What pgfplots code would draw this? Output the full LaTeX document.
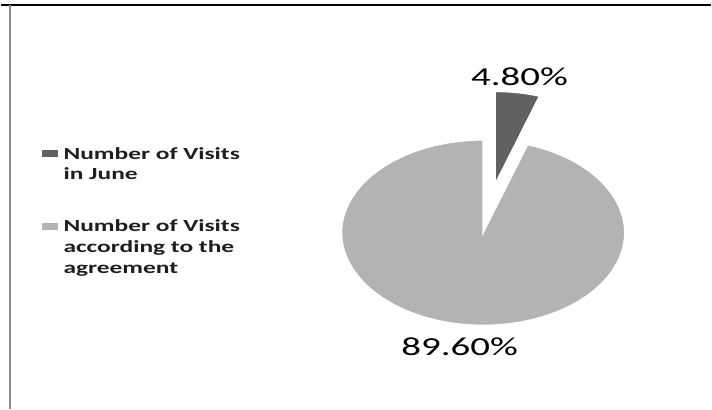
\documentclass[border=0pt]{standalone}
\usepackage{pgfplots}
\pgfplotsset{compat=1.18}
\usepackage{pgfplotstable}
\usepackage{fontspec}
\setmainfont{Carlito}
\newfontfamily\stretchfont[FakeStretch=1.5]{Carlito}
\definecolor{darkslice}{HTML}{616161}
\definecolor{lightslice}{HTML}{B3B3B3}
\definecolor{frameline}{HTML}{8A8A8A}
\definecolor{legtext}{HTML}{1E1E1E}

\pgfplotstableread{
label value
June 4.8
Agreement 89.6
}\piedata

\begin{document}
\begin{tikzpicture}
\pgfplotstablegetelem{0}{value}\of\piedata \let\va\pgfplotsretval
\pgfplotstablegetelem{1}{value}\of\piedata \let\vb\pgfplotsretval
\pgfmathsetmacro\tot{\va+\vb}
\pgfmathsetmacro\angA{\va/\tot*360}
\pgfmathsetmacro\angB{\vb/\tot*360}
\pgfmathsetmacro\endA{90-\angA}
\pgfmathsetmacro\endB{\endA-\angB}
\pgfmathsetmacro\midA{90-\angA/2}
% pie geometry (pixel units)
\def\cx{483.5}\def\cy{233.3}\def\rx{142}\def\ry{93}\def\expl{0.53}
\pgfmathsetmacro\ecx{\cx+\expl*\rx*cos(\midA)}
\pgfmathsetmacro\ecy{\cy-\expl*\ry*sin(\midA)}
\begin{axis}[hide axis, scale only axis, width=712bp, height=410bp,
  xmin=0, xmax=712, ymin=0, ymax=410, y dir=reverse, clip=false]
\path (axis cs:0,0) rectangle (axis cs:712,410);
% frame lines
\draw[line width=2bp, black] (axis cs:0,5) -- (axis cs:712,5);
\draw[line width=1.3bp, frameline] (axis cs:9,5) -- (axis cs:9,410);
% big slice
\filldraw[fill=lightslice, draw=white, line width=1.5bp]
  (axis cs:\cx,\cy) -- +(\endA:\rx bp and \ry bp)
  arc[start angle=\endA, end angle=\endB, x radius=\rx bp, y radius=\ry bp] -- cycle;
% exploded small slice
\filldraw[fill=darkslice, draw=white, line width=1.5bp]
  (axis cs:\ecx,\ecy) -- +(90:\rx bp and \ry bp)
  arc[start angle=90, end angle=\endA, x radius=\rx bp, y radius=\ry bp] -- cycle;
% data labels
\node[anchor=base, inner sep=0pt, font=\stretchfont\fontsize{26bp}{30bp}\selectfont, text=black]
  at (axis cs:520,86) {4.80\%};
\node[anchor=base, inner sep=0pt, font=\stretchfont\fontsize{26bp}{30bp}\selectfont, text=black]
  at (axis cs:460,356.5) {89.60\%};
% legend
\fill[darkslice] (axis cs:41.5,150.5) rectangle (axis cs:57.5,157);
\fill[lightslice] (axis cs:41.5,224) rectangle (axis cs:57.5,230.5);
\tikzset{legtxt/.style={anchor=base west, inner sep=0pt, text=legtext,
  font=\stretchfont\bfseries\fontsize{17bp}{21bp}\selectfont}}
\node[legtxt] at (axis cs:62.5,160) {Number of Visits};
\node[legtxt] at (axis cs:62.5,180.5) {in June};
\node[legtxt] at (axis cs:62.5,232) {Number of Visits};
\node[legtxt] at (axis cs:62.5,253) {according to the};
\node[legtxt] at (axis cs:62.5,274) {agreement};
\end{axis}
\end{tikzpicture}
\end{document}
